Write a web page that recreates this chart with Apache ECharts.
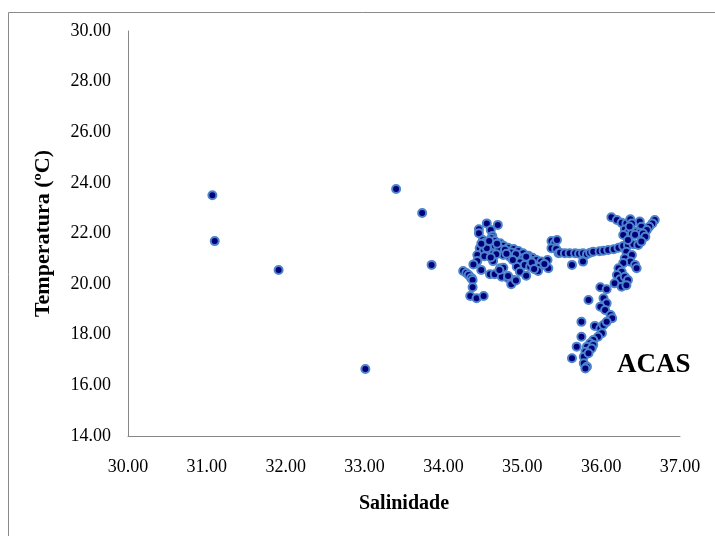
<!DOCTYPE html>
<html>
<head>
<meta charset="utf-8">
<script src="https://cdn.jsdelivr.net/npm/echarts@6/dist/echarts.min.js"></script>
<style>
html,body{margin:0;padding:0;background:#fff;}
#chart{width:715px;height:536px;}
</style>
</head>
<body>
<div id="chart"></div>
<script>
// Salinity (x) and temperature (y) per point
var salinity = [
31.07,31.10,31.91,33.01,33.40,33.73,33.85,
34.55,34.69,34.45,34.45,34.60,34.62,34.50,34.53,34.61,34.65,34.72,34.76,34.82,34.89,34.95,35.01,35.08,35.13,35.18,35.24,35.32,35.33,
34.46,34.51,34.57,34.63,34.70,34.76,34.84,34.95,35.01,35.08,34.97,35.03,35.10,35.16,35.22,34.93,34.97,35.05,35.20,
34.43,34.43,34.38,34.48,34.63,34.72,34.76,34.59,34.65,34.74,34.82,34.89,34.86,34.36,
34.55,34.51,34.59,34.65,34.70,34.55,34.48,34.58,34.68,34.78,34.86,34.92,35.05,34.80,34.67,34.52,34.60,34.88,35.12,35.28,35.15,
34.25,34.29,34.32,34.35,34.37,34.37,34.34,34.42,34.51,34.71,34.82,34.92,
35.37,35.41,35.44,35.37,35.43,35.46,
35.48,35.54,35.60,35.67,35.72,35.77,35.82,35.86,35.90,35.63,35.77,
35.98,36.03,36.09,36.16,36.22,36.28,36.34,36.41,36.47,
36.13,36.20,36.26,36.32,36.37,36.39,36.49,36.51,36.68,36.65,36.61,36.58,36.30,36.34,36.39,36.45,36.49,36.53,36.56,36.51,36.28,36.34,36.43,36.36,
36.32,36.39,36.30,36.37,36.28,36.43,36.45,36.22,36.26,36.20,36.24,36.30,36.34,36.17,36.26,36.32,
35.99,36.07,36.03,36.07,35.99,36.05,36.12,36.14,35.84,
35.75,35.92,35.99,36.03,36.07,36.01,35.96,35.90,35.86,35.82,35.80,35.78,35.78,35.82,35.90,35.88,35.84,35.75,35.69,35.63,35.80
];
var temperature = [
23.51,21.70,20.56,16.65,23.76,22.81,20.76,
22.40,22.34,22.17,22.01,22.14,21.90,21.74,21.64,21.81,21.70,21.61,21.52,21.44,21.39,21.31,21.22,21.12,21.04,20.95,20.89,20.95,20.63,
21.42,21.31,21.26,21.28,21.35,21.15,21.08,21.04,21.02,20.99,20.86,20.76,20.69,20.73,20.69,20.69,20.49,20.33,20.52,
21.15,20.91,20.78,20.56,20.91,20.63,20.65,20.39,20.39,20.29,20.23,20.16,20.00,20.23,
21.61,21.55,21.48,21.52,21.44,21.42,21.60,21.70,21.60,21.36,21.25,21.18,21.08,21.20,21.18,21.10,21.05,20.95,20.85,20.80,20.60,
20.52,20.44,20.36,20.24,20.16,19.88,19.53,19.44,19.53,20.56,20.32,20.14,
21.70,21.61,21.74,21.42,21.39,21.22,
21.24,21.22,21.22,21.22,21.20,21.22,21.18,21.24,21.28,20.76,20.89,
21.30,21.32,21.35,21.38,21.44,21.51,21.55,21.58,21.55,
22.64,22.53,22.42,22.40,22.56,22.40,22.47,22.27,22.53,22.40,22.27,22.14,22.16,22.03,22.00,22.07,22.03,22.00,21.87,21.68,21.94,21.74,21.95,22.28,
21.28,21.15,21.02,20.89,20.83,20.76,20.63,20.63,20.49,20.36,20.19,20.29,20.16,20.03,19.90,19.96,
19.88,19.80,19.44,19.24,19.11,18.98,18.78,18.65,19.37,
18.51,18.35,18.25,18.39,18.51,18.06,17.92,17.79,17.66,17.53,17.33,17.13,16.87,16.74,17.60,17.46,17.27,17.92,17.53,17.07,16.67
];
var xTitle = 'Salinidade';
var yTitle = 'Temperatura (ºC)';
var annotation = 'ACAS';

var points = salinity.map(function(s, i){ return [s, temperature[i]]; });

var chart = echarts.init(document.getElementById('chart'), null, {renderer:'canvas'});
var serif = '"Liberation Serif","Times New Roman",serif';
chart.setOption({
  animation:false,
  backgroundColor:'#fff',
  grid:{left:128, right:35, top:31, bottom:100},
  xAxis:{
    type:'value', min:30, max:37, interval:1,
    axisLine:{show:true, onZero:false, lineStyle:{color:'#868686', width:1}},
    axisTick:{show:false},
    splitLine:{show:false},
    axisLabel:{formatter:function(v){return v.toFixed(2);}, fontFamily:serif, fontSize:18, color:'#000', margin:22},
    name:xTitle, nameLocation:'middle', nameGap:58,
    nameTextStyle:{fontFamily:serif, fontSize:20, fontWeight:'bold', color:'#000'}
  },
  yAxis:{
    type:'value', min:14, max:30, interval:2,
    axisLine:{show:true, onZero:false, lineStyle:{color:'#868686', width:1}},
    axisTick:{show:false},
    splitLine:{show:false},
    axisLabel:{formatter:function(v){return v.toFixed(2);}, fontFamily:serif, fontSize:18, color:'#000', margin:17},
    name:yTitle, nameLocation:'middle', nameGap:74, nameRotate:90,
    nameTextStyle:{fontFamily:serif, fontSize:22, fontWeight:'bold', color:'#000'}
  },
  series:[{
    type:'scatter',
    data:points,
    symbol:'circle',
    symbolSize:8,
    itemStyle:{color:'#00007a', borderColor:'#4d84cc', borderWidth:2, opacity:1}
  }],
  graphic:[
    {type:'rect', left:6, top:10, z:-1, silent:true,
     shape:{width:730, height:550}, style:{fill:'none', stroke:'#8a8a8a', lineWidth:1}},
    {type:'text', left:617, top:352, z:10,
     style:{text:annotation, font:'bold 27px "Liberation Serif","Times New Roman",serif', fill:'#000'}}
  ]
});
</script>
</body>
</html>
